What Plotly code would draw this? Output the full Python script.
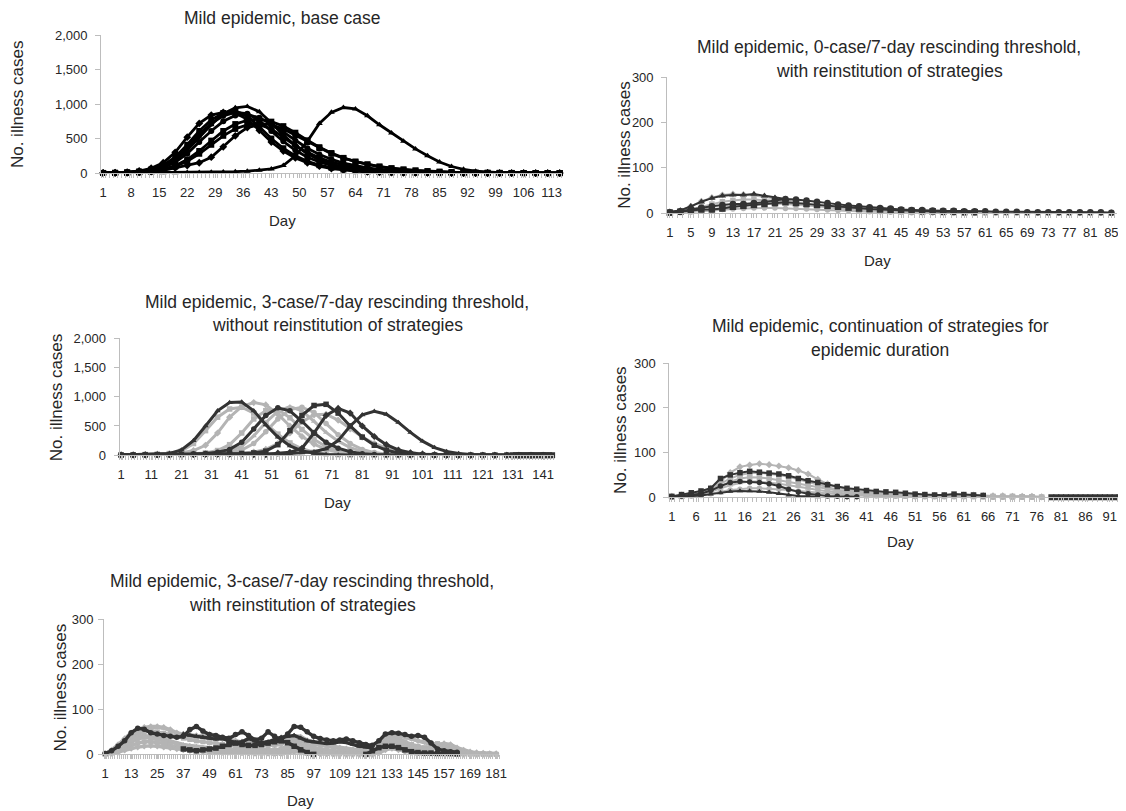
import plotly.graph_objects as go

W, H = 1126, 811
# observed placement of the figure in the captured page: screen = OFF + SCALE * figure_px
OFF_X, SC_X = 12.0, 0.989
OFF_Y, SC_Y = 15.0, 0.981
FONT = "Liberation Sans, Arial, sans-serif"
BLACK = "#000000"
DARK = "#333333"
LIGHT = "#b4b4b4"
AXC = "#bdbdbd"
TXT = "#262626"
N = None

# ---------------- Panel 1: base case (days sampled every 3 days) ----------------
P1_DAYS = list(range(1, 116, 3))
P1_A = [2,5,14,30,70,150,300,520,720,840,880,870,780,620,450,320,220,150,100,65,42,27,17,11,7,4,3,2,1,1,0,0,0,0,0,0,0,0,0]
P1_B = [2,4,11,24,52,115,230,410,610,770,870,900,830,670,500,360,250,170,115,78,52,34,22,14,9,6,4,2,1,1,0,0,0,0,0,0,0,0,0]
P1_C = [1,3,8,18,40,90,180,330,520,700,860,945,965,890,730,550,400,280,190,130,88,60,40,27,18,12,8,5,3,2,1,1,0,0,0,0,0,0,0]
P1_D = [1,3,8,17,36,78,155,280,450,610,750,835,850,800,710,590,470,360,270,200,145,105,75,53,37,26,18,12,8,5,3,2,1,1,0,0,0,0,0]
P1_E = [1,2,6,13,28,58,108,195,320,470,610,710,765,780,745,680,585,475,375,290,220,165,125,92,68,50,36,26,18,12,8,5,3,2,1,1,0,0,0]
P1_F = [1,2,5,10,20,40,75,110,150,230,380,540,660,700,640,520,400,300,220,160,115,80,55,38,26,17,11,7,5,3,2,1,1,0,0,0,0,0,0]
P1_G = [0,1,1,2,3,4,6,8,10,13,16,20,28,40,60,110,250,460,720,880,950,930,830,700,580,460,350,250,160,95,55,28,14,7,3,2,1,0,0]
P1_H = [1,3,9,20,45,100,205,370,560,720,830,880,860,760,610,460,330,230,160,110,75,50,33,22,14,9,6,4,2,1,1,0,0,0,0,0,0,0,0]
P1_I = [1,2,5,11,24,50,95,170,280,410,540,640,700,720,700,640,550,450,360,280,215,165,125,95,70,52,38,28,20,14,10,7,5,3,2,1,1,0,0]

# ---------------- Panel 2: 3-case/7-day, without reinstitution (every 4 days) ----------------
P2_DAYS = list(range(1, 146, 4))
P2_D1 = [5,8,12,18,30,90,250,500,760,900,910,760,520,310,160,75,32,13,5,2,1,0,0,0,0,0,0,0,0,0,0,0,0,0,0,0,0]
P2_L1 = [5,8,12,18,25,40,80,170,380,650,830,900,860,700,500,320,190,100,50,22,10,4,2,1,0,0,0,0,0,0,0,0,0,0,0,0,0]
P2_L2 = [5,8,12,18,28,70,200,420,650,790,820,720,540,360,210,110,50,22,9,3,1,0,0,0,0,0,0,0,0,0,0,0,0,0,0,0,0]
P2_D2 = [3,5,8,10,12,15,20,30,50,100,220,450,680,810,760,580,380,220,120,60,27,11,4,2,1,0,0,0,0,0,0,0,0,0,0,0,0]
P2_L3 = [3,5,8,10,12,15,18,25,40,70,150,330,560,750,830,760,580,390,240,130,65,30,13,5,2,1,0,0,0,0,0,0,0,0,0,0,0]
P2_L4 = [3,5,8,10,12,14,16,20,30,50,90,200,400,620,780,820,730,540,350,200,100,45,18,7,3,1,0,0,0,0,0,0,0,0,0,0,0]
P2_L5 = [3,5,8,10,14,18,25,40,80,180,380,620,760,780,640,440,270,150,75,35,15,6,2,1,0,0,0,0,0,0,0,0,0,0,0,0,0]
P2_L6 = [2,4,6,8,10,12,14,16,20,25,35,55,100,200,380,570,690,700,600,450,310,200,120,70,40,22,12,6,3,1,0,0,0,0,0,0,0]
P2_D3 = [2,4,6,8,10,12,14,16,20,25,30,40,70,180,420,680,850,870,720,500,310,170,85,38,16,6,2,1,0,0,0,0,0,0,0,0,0]
P2_D4 = [2,4,6,8,10,12,14,16,18,20,15,8,10,35,50,120,380,680,800,720,500,320,180,90,42,18,7,3,1,0,0,0,0,0,0,0,0]
P2_D5 = [2,3,4,5,6,7,8,9,10,12,14,16,20,25,30,40,60,110,250,500,690,750,700,560,390,240,130,65,30,13,5,2,1,0,0,0,0]
P2_END_DAYS = list(range(131, 145))
P2_END = [0,0,0,0,0,0,0,0,0,0,0,0,0,0]

# ---------------- Panel 3: 3-case/7-day, with reinstitution (every 3 days) ----------------
P3_DAYS = list(range(1, 182, 3))
P3_G1 = [2,10,22,35,48,55,60,62,62,60,55,48,45,44,42,40,38,36,34,32,30,28,26,24,22,20,20,22,30,40,38,30,24,20,18,16,14,12,10,8,6,5,20,40,46,44,40,35,30,28,25,22,24,22,15,10,6,4,3,2,2]
P3_G2 = [1,6,15,25,35,40,42,40,38,35,30,25,22,20,18,16,15,14,13,12,11,10,9,8,8,7,7,8,15,25,22,15,10,7,5,4,3,3,2,2,2,2,10,28,35,30,22,16,12,10,14,20,18,12,6,3,2,1,1,1,0]
P3_G3 = [0,3,8,14,20,25,28,28,26,24,20,17,14,12,10,9,8,7,6,5,5,4,4,3,3,3,2,2,5,10,8,5,3,2,2,1,1,1,1,1,1,1,5,15,20,16,10,6,4,3,2,2,2,1,1,1,0,0,0,0,0]
P3_G4 = [1,8,20,32,42,50,55,58,60,58,52,46,42,40,38,44,46,42,38,34,30,26,24,22,20,22,26,30,35,42,40,32,26,22,20,18,16,14,12,10,8,6,18,38,44,42,38,34,30,26,22,18,16,14,10,6,4,3,2,1,1]
P3_G5 = [1,5,12,20,28,34,38,36,33,30,27,24,20,18,16,14,12,11,10,9,8,7,6,5,5,4,4,5,10,18,15,10,6,4,3,3,2,2,2,1,1,1,8,22,28,24,16,10,7,6,10,16,14,9,4,2,1,1,0,0,0]
P3_G6 = [1,7,18,28,38,45,50,52,50,47,44,40,36,33,30,28,26,24,22,20,18,16,15,14,12,11,10,12,20,32,30,22,16,12,10,8,7,6,5,4,4,3,14,32,40,36,28,22,18,15,18,24,20,16,8,4,3,2,1,1,0]
P3_G7 = [0,2,5,9,13,16,18,19,18,16,14,12,10,8,7,6,5,5,4,4,3,3,3,2,2,2,2,2,3,6,5,3,2,1,1,1,1,0,0,0,0,0,3,10,13,10,6,4,3,2,2,3,3,2,1,0,0,0,0,0,0]
P3_M1 = [2,8,18,30,48,58,56,48,45,42,40,38,40,55,62,52,44,42,38,36,44,50,42,32,36,50,40,32,45,62,60,50,40,35,32,30,32,34,30,26,22,20,30,45,48,47,44,40,42,38,25,12,8,6,5,N,N,N,N,N,N]
P3_M2 = [N]*12 + [12,10,8,10,12,14,18,22,25,22,20,20,22,25,28,30,26,18,10,4,0] + [N]*7 + [0,8,15,18,18,15,10,6,4,3,3,2,2,2,1] + [N]*6
P3_M3 = [N]*12 + [45,42,40,38,36,34,35,30,26,28,35,30,26,28,34,38,40,42,36,30,28,26,24,25,28,26,22,18,16,14] + [N]*19

# ---------------- Panel 4: 0-case/7-day, with reinstitution (every 2 days) ----------------
P4_DAYS = list(range(1, 86, 2))
P4_L1 = [2,5,15,26,34,40,42,41,39,36,32,28,24,20,17,14,11,9,7,6,5,4,3,3,2,2,2,1,1,1,1,1,1,1,1,1,1,1,1,1,1,1,1]
P4_L2 = [1,3,8,14,20,25,28,30,30,29,27,25,22,19,16,13,11,9,7,6,5,4,3,3,2,2,1,1,1,1,1,1,1,1,1,1,1,1,1,1,1,1,1]
P4_L3 = [1,2,4,6,9,12,15,17,19,20,21,20,19,17,15,13,11,9,8,6,5,4,3,3,2,2,1,1,1,0,0,0,0,0,0,0,0,0,0,0,0,0,0]
P4_L4 = [0,1,2,4,6,8,9,10,11,11,11,10,10,9,8,7,6,5,4,3,3,2,2,1,1,1,1,0,0,0,0,0,0,0,0,0,0,0,0,0,0,0,0]
P4_DA = [3,6,15,25,33,38,40,40,42,38,34,31] + [N]*31
P4_DB = [2,4,8,12,15,18,20,20,22,24,28,31,30,28,25,22,19,17,15,13,11,10,8,7,7,6,5,5,4,4,4,3,3,3,2,2,2,2,2,2,2,2,1]
P4_DC = [1,3,6,8,8,10,14,16,18,20,22,24,22,20,18,16,14,12,10,9,8,7,6,5,4,4,3,3,2,2] + [N]*13

# ---------------- Panel 5: continuation of strategies (every 2 days) ----------------
P5_DAYS = list(range(1, 96, 2))
P5_L1 = [2,5,8,12,20,35,55,68,72,75,73,70,66,60,52,40,30,22,17,13,11,9,8,7,6,5,5,4,4,4,5,5,4,3,3,2,2,2,1] + [N]*9
P5_L2 = [1,3,6,10,18,30,42,50,54,55,53,50,46,40,34,28,22,17,13,10,8,6,5,4,3,3,2,2,2,2,2,2,1,1,1,1,1,1,0] + [N]*9
P5_L3 = [1,2,4,7,12,20,27,32,35,35,33,30,27,24,20,16,13,10,8,6,5,4,3,3,2,2,2,1,1,1,1,1,1,1,0,0,0,0,0] + [N]*9
P5_L4 = [0,1,2,4,8,12,16,18,20,20,19,18,16,14,12,10,8,6,5,4,3,3,2,2,2,1,1,1,1,1,1,1,1,0,0,0,0,0,0] + [N]*9
P5_L5 = [1,3,5,9,15,25,35,42,45,44,42,38,34,30,26,22,18,14,11,9,7,6,5,4,4,3,3,3,3,3,4,4,3,2,2,2,1,1,0] + [N]*9
P5_DA = [2,6,10,14,20,42,50,55,58,56,54,52,48,42,37,33,28,24,20,18,15,13,12,11,9,7,6,5,5,7,6,5,4] + [N]*15
P5_DB = [1,3,5,8,15,25,33,35,34,33,30,25,18,12,8,5,3,2,1,1] + [N]*28
P5_DC = [0,1,2,4,7,10,13,14,14,13,11,8,5,3,2,1] + [N]*32
P5_END_DAYS = list(range(79, 96))
P5_END = [0]*17

TITLES = [
    ["Mild epidemic, base case"],
    ["Mild epidemic, 3-case/7-day rescinding threshold,", "without reinstitution of strategies"],
    ["Mild epidemic, 3-case/7-day rescinding threshold,", "with reinstitution of strategies"],
    ["Mild epidemic, 0-case/7-day rescinding threshold,", "with reinstitution of strategies"],
    ["Mild epidemic, continuation of strategies for", "epidemic duration"],
]

# panel geometry in target (screen) pixels
GEOM = [
    dict(x1=104, ppd=4.0, ncat=115, yt=35, yb=173, ymax=2000, ydt=500, xdt=7, so=5),
    dict(x1=122, ppd=3.01, ncat=144, yt=338, yb=455, ymax=2000, ydt=500, xdt=10, so=5),
    dict(x1=106, ppd=2.17, ncat=182, yt=619, yb=754, ymax=300, ydt=100, xdt=12, so=2),
    dict(x1=670, ppd=5.25, ncat=85.5, yt=77, yb=213, ymax=300, ydt=100, xdt=4, so=5),
    dict(x1=672, ppd=4.86, ncat=None, yt=363, yb=497, ymax=300, ydt=100, xdt=5, so=5),
]
TITLE_POS = [[(283, 18)], [(338, 302), (338, 325)], [(303, 581), (303, 605)],
             [(889, 47), (889, 71)], [(880, 326), (880, 350)]]
YTITLE_POS = [(18, 104), (57, 397), (61, 687), (624, 145), (620, 430)]
DAY_POS = [(283, 220), (338, 502), (301, 800), (877, 260), (900, 541)]


def fx(p):
    return ((p - OFF_X) / SC_X) / W


def fy(p):
    return 1 - ((p - OFF_Y) / SC_Y) / H


fig = go.Figure()
layout = dict(width=W, height=H, margin=dict(l=0, r=0, t=0, b=0), autosize=False,
              paper_bgcolor="white", plot_bgcolor="white", showlegend=False,
              font=dict(family=FONT, color=TXT))
annotations = []

SYMS = ["diamond", "square", "triangle-up", "circle", "square", "diamond", "triangle-up", "circle", "square"]

for i, g in enumerate(GEOM):
    k = "" if i == 0 else str(i + 1)
    x0 = g["x1"] - 0.5 * g["ppd"]
    if g["ncat"] is None:
        x1 = 1122
    else:
        x1 = min(1122, x0 + g["ncat"] * g["ppd"])
    rmax = 0.5 + (x1 - x0) / g["ppd"]
    layout["xaxis" + k] = dict(
        domain=[max(0.0, fx(x0)), min(1.0, fx(x1))], range=[0.5, rmax], anchor="y" + k,
        showline=True, linecolor=AXC, linewidth=1, showgrid=False, zeroline=False,
        tick0=1, dtick=g["xdt"], ticks="outside", ticklen=4, tickcolor=AXC,
        tickfont=dict(size=13, family=FONT, color=TXT), ticklabelstandoff=3,
        minor=dict(ticks="outside", ticklen=4, tick0=0.5, dtick=1, tickcolor=AXC, showgrid=False),
        fixedrange=True,
    )
    layout["yaxis" + k] = dict(
        domain=[fy(g["yb"]), fy(g["yt"])], range=[0, g["ymax"]], anchor="x" + k,
        showline=True, linecolor=AXC, linewidth=1, showgrid=False, zeroline=False,
        dtick=g["ydt"], ticks="outside", ticklen=5, tickcolor=AXC, tickformat=",d",
        tickfont=dict(size=13, family=FONT, color=TXT), ticklabelstandoff=g["so"],
        fixedrange=True,
    )
    for (tx, ty), line in zip(TITLE_POS[i], TITLES[i]):
        annotations.append(dict(x=fx(tx), y=fy(ty), xref="paper", yref="paper", text=line,
                                showarrow=False, xanchor="center", yanchor="middle",
                                font=dict(size=17.5, family=FONT, color=TXT)))
    yx, yy = YTITLE_POS[i]
    annotations.append(dict(x=fx(yx), y=fy(yy), xref="paper", yref="paper", text="No. illness cases",
                            showarrow=False, textangle=-90, xanchor="center", yanchor="middle",
                            font=dict(size=17, family=FONT, color=TXT)))
    dx, dy = DAY_POS[i]
    annotations.append(dict(x=fx(dx), y=fy(dy), xref="paper", yref="paper", text="Day",
                            showarrow=False, xanchor="center", yanchor="middle",
                            font=dict(size=15, family=FONT, color=TXT)))

layout["annotations"] = annotations
fig.update_layout(**layout)


def add(ax, days, vals, color, sym, msize=4, lw=2.0):
    k = "" if ax == 1 else str(ax)
    fig.add_trace(go.Scatter(x=days, y=vals, mode="lines+markers", xaxis="x" + k, yaxis="y" + k,
                             line=dict(color=color, width=lw), connectgaps=False,
                             marker=dict(color=color, symbol=sym, size=msize, line=dict(width=0)),
                             cliponaxis=False, hoverinfo="skip"))


for j, s in enumerate([P1_A, P1_B, P1_C, P1_D, P1_E, P1_F, P1_G, P1_H, P1_I]):
    add(1, P1_DAYS, s, BLACK, SYMS[j], msize=6, lw=2.8)

for j, s in enumerate([P2_L1, P2_L2, P2_L3, P2_L4, P2_L5, P2_L6]):
    add(2, P2_DAYS, s, LIGHT, SYMS[j], msize=5.5, lw=3)
for j, s in enumerate([P2_D1, P2_D2, P2_D3, P2_D4, P2_D5]):
    add(2, P2_DAYS, s, DARK, SYMS[j + 2], msize=5.5, lw=3)
add(2, P2_END_DAYS, P2_END, DARK, "square", msize=6, lw=4)

for j, s in enumerate([P3_G1, P3_G6, P3_G2, P3_G5, P3_G3, P3_G7, P3_G4]):
    add(3, P3_DAYS, s, LIGHT, SYMS[j], msize=5, lw=3.4)
for j, s in enumerate([P3_M2, P3_M3, P3_M1]):
    add(3, P3_DAYS, s, DARK, SYMS[j + 1], msize=5.5, lw=3.4)

for j, s in enumerate([P4_L1, P4_L2, P4_L3, P4_L4]):
    add(4, P4_DAYS, s, LIGHT, SYMS[j], msize=5.5, lw=2)
for j, s in enumerate([P4_DC, P4_DA, P4_DB]):
    add(4, P4_DAYS, s, DARK, SYMS[j + 1], msize=6.5, lw=2)

for j, s in enumerate([P5_L1, P5_L2, P5_L3, P5_L4, P5_L5]):
    add(5, P5_DAYS, s, LIGHT, SYMS[j], msize=5.5, lw=2)
for j, s in enumerate([P5_DC, P5_DB, P5_DA]):
    add(5, P5_DAYS, s, DARK, SYMS[j + 2], msize=5.5, lw=2)
add(5, P5_END_DAYS, P5_END, DARK, "square", msize=6, lw=2.5)

fig.write_html("out.html")
